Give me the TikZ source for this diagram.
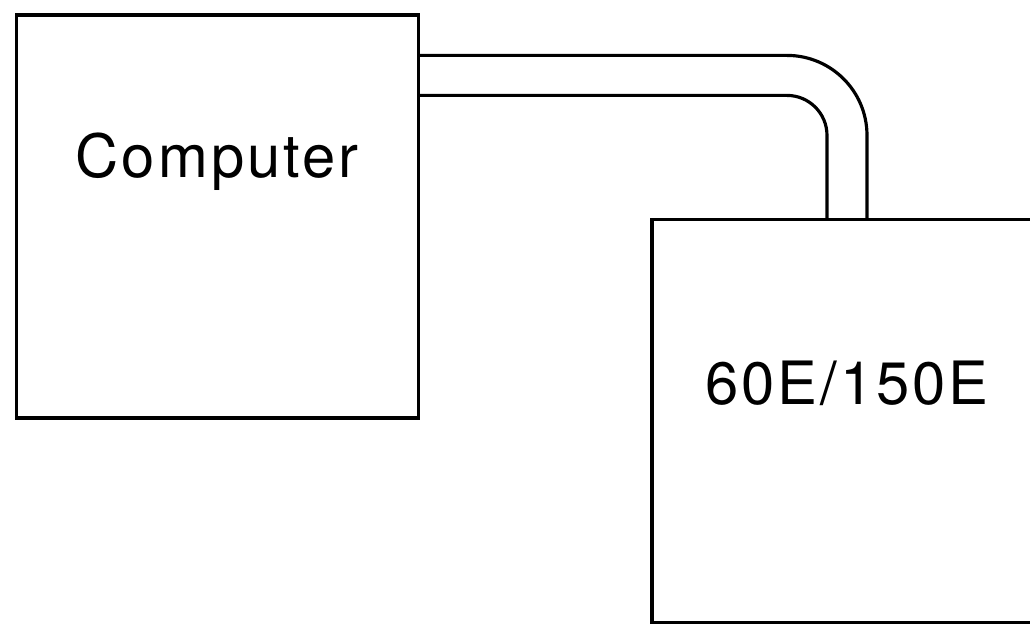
\documentclass[tikz,border=0pt]{standalone}
\usepackage{fontspec}
\newfontfamily\plotfont[LetterSpace=5]{TeX Gyre Heros}
\usetikzlibrary{positioning}

\begin{document}
\begin{tikzpicture}
  \tikzset{
    unitbox/.style={draw, line width=0.9pt, minimum width=4.02cm, minimum height=4.03cm, inner sep=0pt},
    boxlabel/.style={font=\plotfont\fontsize{17}{20}\selectfont, anchor=base},
    cable/.style={line width=0.9pt}
  }
  \useasboundingbox (0,0) rectangle (10.30,6.26);
  \clip (0,0) rectangle (10.30,6.26);

  % Boxes
  \node[unitbox] (computer) at (2.175,4.095) {};
  \node[unitbox] (unit) at (8.53,2.05) {};

  % Labels
  \node[boxlabel] (computerlabel) at (2.17,4.48) {Computer};
  \node[boxlabel] (unitlabel) at (8.47,2.21) {60E/150E};

  % Cable
  \draw[cable, rounded corners=8mm] ([yshift=-4.2mm]computer.north east) -| ([xshift=1.4mm]unit.north);
  \draw[cable, rounded corners=4mm] ([yshift=-8.2mm]computer.north east) -| ([xshift=-2.6mm]unit.north);
\end{tikzpicture}
\end{document}
